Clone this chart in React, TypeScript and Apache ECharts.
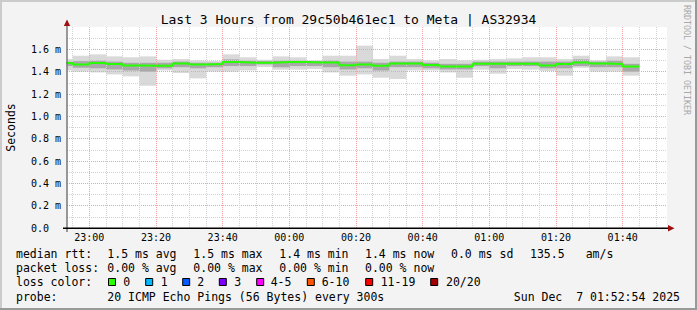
import { useEffect, useRef } from 'react';
import * as echarts from 'echarts';

// ---- data (values in milliseconds) ----
const stepEnds = [
  '22:55', '23:00', '23:05', '23:10', '23:15', '23:20', '23:25', '23:30', '23:35', '23:40',
  '23:45', '23:50', '23:55', '00:00', '00:05', '00:10', '00:15', '00:20', '00:25', '00:30',
  '00:35', '00:40', '00:45', '00:50', '00:55', '01:00', '01:05', '01:10', '01:15', '01:20',
  '01:25', '01:30', '01:35', '01:40', '01:45',
];
const medianMs = [
  1.477, 1.465, 1.477, 1.468, 1.455, 1.453, 1.453, 1.474, 1.465, 1.468,
  1.486, 1.480, 1.480, 1.486, 1.486, 1.483, 1.483, 1.458, 1.465, 1.453,
  1.474, 1.474, 1.460, 1.447, 1.447, 1.471, 1.471, 1.471, 1.471, 1.456,
  1.468, 1.483, 1.474, 1.468, 1.447,
];
const maxMs = [
  1.513, 1.543, 1.555, 1.537, 1.529, 1.537, 1.507, 1.513, 1.501, 1.495,
  1.555, 1.529, 1.507, 1.537, 1.529, 1.501, 1.543, 1.543, 1.633, 1.513,
  1.543, 1.513, 1.501, 1.513, 1.501, 1.507, 1.513, 1.519, 1.529, 1.529,
  1.513, 1.543, 1.501, 1.537, 1.529,
];
const minMs = [
  1.411, 1.400, 1.393, 1.375, 1.358, 1.274, 1.411, 1.388, 1.340, 1.400,
  1.400, 1.411, 1.442, 1.418, 1.418, 1.424, 1.393, 1.364, 1.375, 1.346,
  1.334, 1.411, 1.411, 1.393, 1.346, 1.418, 1.382, 1.424, 1.418, 1.406,
  1.364, 1.435, 1.400, 1.400, 1.364,
];
const innerHiMs = [
  1.490, 1.495, 1.500, 1.490, 1.480, 1.480, 1.480, 1.490, 1.480, 1.480,
  1.510, 1.500, 1.495, 1.500, 1.500, 1.495, 1.500, 1.490, 1.490, 1.480,
  1.490, 1.490, 1.480, 1.470, 1.470, 1.490, 1.490, 1.490, 1.490, 1.490,
  1.490, 1.510, 1.490, 1.500, 1.470,
];
const innerLoMs = [
  1.450, 1.435, 1.430, 1.420, 1.410, 1.400, 1.430, 1.440, 1.430, 1.440,
  1.450, 1.450, 1.465, 1.440, 1.450, 1.450, 1.440, 1.420, 1.430, 1.410,
  1.440, 1.440, 1.430, 1.420, 1.420, 1.450, 1.430, 1.450, 1.450, 1.430,
  1.430, 1.450, 1.440, 1.440, 1.400,
];
const xTickLabels = ['23:00', '23:20', '23:40', '00:00', '00:20', '00:40', '01:00', '01:20', '01:40'];
const viewStart = '22:53:18';
const viewEnd = '01:53:18';
const STEP_MIN = 5;
const MINOR_MIN = 5;

const titleText = 'Last 3 Hours from 29c50b461ec1 to Meta | AS32934';
const yAxisTitle = 'Seconds';
const rowLabels = ['median rtt:', 'packet loss:', 'loss color:', 'probe:'];
const rttStats = ['1.5 ms avg', '1.5 ms max', '1.4 ms min', '1.4 ms now', '0.0 ms sd', '135.5', 'am/s'];
const lossStats = ['0.00 % avg', '0.00 % max', '0.00 % min', '0.00 % now'];
const lossLabels = ['0', '1', '2', '3', '4-5', '6-10', '11-19', '20/20'];
const lossColors = ['#26ff00', '#00b8ff', '#0059ff', '#7e00ff', '#ff00ff', '#ff5500', '#ff0000', '#a10000'];
const probeText = '20 ICMP Echo Pings (56 Bytes) every 300s';
const stampText = 'Sun Dec  7 01:52:54 2025';
const watermark = 'RRDTOOL / TOBI OETIKER';

// ---- helpers ----
const toMin = (s: string) => {
  const p = s.split(':').map(Number);
  const h = p[0] >= 12 ? p[0] - 24 : p[0];
  return h * 60 + p[1] + (p[2] || 0) / 60;
};
const pad = (n: number) => (n < 10 ? '0' : '') + n;
const fromMin = (v: number) => {
  let t = Math.round(v);
  t = ((t % 1440) + 1440) % 1440;
  return pad(Math.floor(t / 60)) + ':' + pad(t % 60);
};

const MONO = '"DejaVu Sans Mono", monospace';
const xMin = toMin(viewStart);
const xMax = toMin(viewEnd);
const majorX = xTickLabels.map(toMin);
const minorX: number[] = [];
for (let m = Math.ceil(xMin / MINOR_MIN) * MINOR_MIN; m <= xMax; m += MINOR_MIN) {
  if (!majorX.includes(m)) minorX.push(m);
}

const bandRender = (color: string) => (params: any, api: any) => {
  const tEnd = api.value(0);
  const lo = api.value(1);
  const hi = api.value(2);
  const p0 = api.coord([tEnd - STEP_MIN, hi]);
  const p1 = api.coord([tEnd, lo]);
  const cs = params.coordSys;
  const x0 = Math.max(p0[0], cs.x);
  const x1 = Math.min(p1[0], cs.x + cs.width);
  return {
    type: 'rect',
    shape: { x: x0, y: p0[1], width: x1 - x0 + 0.4, height: p1[1] - p0[1] },
    style: { fill: color },
  };
};

const gridRed = '#f2a0a0';
const gridGrey = '#d2d2d2';

const txt = (x: number, y: number, text: string, size: number, extra: any = {}) => ({
  type: 'text',
  x,
  y,
  silent: true,
  ...extra,
  style: {
    text,
    fontFamily: MONO,
    fontSize: size,
    fill: extra.fill || '#000',
    align: extra.align || 'left',
    textAlign: extra.align || 'left',
    verticalAlign: 'middle',
    textVerticalAlign: 'middle',
  },
});

// layout positions for the text block under the chart
const colX = [107.3, 193.3, 279.3, 365, 451, 530, 585.7];
const rowY = [254.3, 268.3, 282.3, 296.5];
const boxX = [108.5, 145.7, 182.7, 219.3, 256.7, 307.3, 365.7, 430.7];
const boxTextX = [123.3, 160.7, 197.3, 234.3, 270.7, 321.7, 380.7, 446];

function buildGraphic() {
  const g: any[] = [];
  // frame
  g.push({ type: 'rect', shape: { x: 0, y: 0, width: 697, height: 2 }, style: { fill: '#cbcbcb' }, silent: true });
  g.push({ type: 'rect', shape: { x: 0, y: 0, width: 2, height: 310 }, style: { fill: '#cbcbcb' }, silent: true });
  g.push({ type: 'rect', shape: { x: 0, y: 308, width: 697, height: 2 }, style: { fill: '#999999' }, silent: true });
  g.push({ type: 'rect', shape: { x: 695, y: 0, width: 2, height: 310 }, style: { fill: '#999999' }, silent: true });
  // axis extensions and arrows
  g.push({ type: 'line', shape: { x1: 67, y1: 21, x2: 67, y2: 232 }, style: { stroke: '#777', lineWidth: 1.5 }, z: 5, silent: true });
  g.push({ type: 'line', shape: { x1: 63, y1: 228.3, x2: 669, y2: 228.3 }, style: { stroke: '#000', lineWidth: 1.5 }, z: 5, silent: true });
  g.push({ type: 'polygon', shape: { points: [[63.8, 26], [70.2, 26], [67, 19.5]] }, style: { fill: '#a01010' }, z: 6, silent: true });
  g.push({ type: 'polygon', shape: { points: [[668, 225], [668, 231.6], [674.5, 228.3]] }, style: { fill: '#a01010' }, z: 6, silent: true });
  // title, axis title, watermark
  g.push(txt(348.5, 19.5, titleText, 13, { align: 'center' }));
  g.push(txt(10.5, 127.5, yAxisTitle, 11.5, { align: 'center', rotation: Math.PI / 2 }));
  g.push(txt(687, 5, watermark, 8.3, { rotation: -Math.PI / 2, fill: '#a8a8a8' }));
  // legend rows
  rowLabels.forEach((t, i) => g.push(txt(16, rowY[i], t, 11.5)));
  rttStats.forEach((t, i) => g.push(txt(colX[i], rowY[0], t, 11.5)));
  lossStats.forEach((t, i) => g.push(txt(colX[i], rowY[1], t, 11.5)));
  lossLabels.forEach((t, i) => {
    g.push({
      type: 'rect',
      shape: { x: boxX[i], y: rowY[2] - 3.8, width: 7, height: 7 },
      style: { fill: lossColors[i], stroke: '#000', lineWidth: 1 },
      silent: true,
    });
    g.push(txt(boxTextX[i], rowY[2], t, 11.5));
  });
  g.push(txt(colX[0], rowY[3], probeText, 11.5));
  g.push(txt(680, rowY[3], stampText, 11.5, { align: 'right' }));
  return g;
}

export default function App() {
  const ref = useRef<HTMLDivElement>(null);
  useEffect(() => {
    if (!ref.current) return;
    const chart = echarts.init(ref.current, null, { renderer: 'svg' });
    const outer = stepEnds.map((t, i) => [toMin(t), minMs[i], maxMs[i]]);
    const inner = stepEnds.map((t, i) => [toMin(t), innerLoMs[i], innerHiMs[i]]);
    const median = [[toMin(stepEnds[0]) - STEP_MIN, medianMs[0]]].concat(
      stepEnds.map((t, i) => [toMin(t), medianMs[i]])
    );
    chart.setOption({
      animation: false,
      backgroundColor: '#f3f3f3',
      grid: { left: 67, right: 30, top: 27, bottom: 82, show: true, backgroundColor: '#ffffff', borderWidth: 0, z: 0 },
      xAxis: [
        {
          type: 'value', min: xMin, max: xMax, z: 2,
          axisLine: { show: false },
          axisTick: { show: false, customValues: majorX },
          axisLabel: { customValues: majorX, formatter: (v: number) => fromMin(v), margin: 4, fontFamily: MONO, fontSize: 10, color: '#000' },
          splitLine: { show: true, lineStyle: { color: gridRed, type: [1, 1], width: 1 } },
        },
        {
          type: 'value', min: xMin, max: xMax, z: 2, position: 'bottom',
          axisLine: { show: false }, axisLabel: { show: false },
          axisTick: { show: false, customValues: minorX },
          splitLine: { show: true, lineStyle: { color: gridGrey, type: [1, 1], width: 1 } },
        },
      ],
      yAxis: {
        type: 'value', min: 0, max: 1.8, interval: 0.2, z: 2,
        axisLine: { show: false },
        axisTick: { show: false },
        axisLabel: {
          showMaxLabel: false, align: 'left', margin: 36,
          formatter: (v: number) => (v === 0 ? '0.0' : v.toFixed(1) + ' m'),
          fontFamily: MONO, fontSize: 10, color: '#000',
        },
        splitLine: { show: true, showMaxLine: false, showMinLine: false, lineStyle: { color: gridRed, type: [1, 1], width: 1 } },
        minorTick: { show: false, splitNumber: 2 },
        minorSplitLine: { show: true, lineStyle: { color: gridGrey, type: [1, 1], width: 1 } },
      },
      series: [
        { type: 'custom', name: 'range', xAxisIndex: 0, z: 1, clip: true, silent: true, renderItem: bandRender('#d9d9d9'), data: outer },
        { type: 'custom', name: 'inner', xAxisIndex: 0, z: 1, clip: true, silent: true, renderItem: bandRender('#a9a9a9'), data: inner },
        {
          type: 'line', name: 'median rtt', xAxisIndex: 0, z: 3, step: 'start', symbol: 'none', silent: true,
          lineStyle: { color: '#26ff00', width: 2 }, data: median,
        },
      ],
      graphic: buildGraphic(),
    });
    return () => chart.dispose();
  }, []);
  return <div ref={ref} style={{ position: 'fixed', left: 0, top: 0, width: 697, height: 310 }} />;
}
